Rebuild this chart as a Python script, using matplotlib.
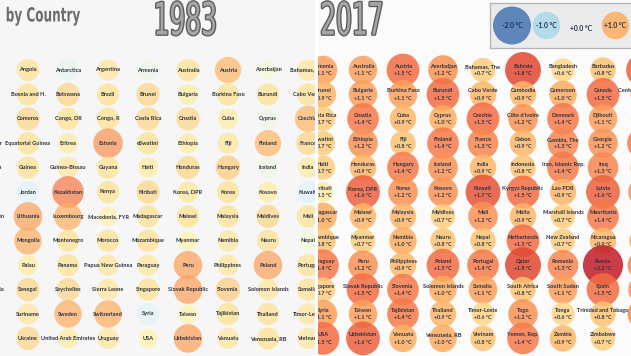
import matplotlib
matplotlib.use('Agg')
import matplotlib.pyplot as plt
import matplotlib.patheffects as pe
from matplotlib.colors import Normalize
from matplotlib.transforms import offset_copy, Affine2D

# ---------------- data ----------------
countries = [
    ["Andorra", "Angola", "Antarctica", "Argentina", "Armenia", "Australia", "Austria", "Azerbaijan", "Bahamas, The", "Bahrain", "Bangladesh", "Barbados", "Belarus"],
    ["Bolivia", "Bosnia and H.", "Botswana", "Brazil", "Brunei", "Bulgaria", "Burkina Faso", "Burundi", "Cabo Verde", "Cambodia", "Cameroon", "Canada", "Central African Rep."],
    ["Colombia", "Comoros", "Congo, DR", "Congo, R", "Costa Rica", "Croatia", "Cuba", "Cyprus", "Czechia", "Côte d'Ivoire", "Denmark", "Djibouti", "Dominica"],
    ["El Salvador", "Equatorial Guinea", "Eritrea", "Estonia", "eSwatini", "Ethiopia", "Fiji", "Finland", "France", "Gabon", "Gambia, The", "Georgia", "Germany"],
    ["Guatemala", "Guinea", "Guinea-Bissau", "Guyana", "Haiti", "Honduras", "Hungary", "Iceland", "India", "Indonesia", "Iran, Islamic Rep.", "Iraq", "Ireland"],
    ["Japan", "Jordan", "Kazakhstan", "Kenya", "Kiribati", "Korea, DPR", "Korea", "Kosovo", "Kuwait", "Kyrgyz Republic", "Lao PDR", "Latvia", "Lebanon"],
    ["Liechtenstein", "Lithuania", "Luxembourg", "Macedonia, FYR", "Madagascar", "Malawi", "Malaysia", "Maldives", "Mali", "Malta", "Marshall Islands", "Mauritania", "Mauritius"],
    ["Moldova", "Mongolia", "Montenegro", "Morocco", "Mozambique", "Myanmar", "Namibia", "Nauru", "Nepal", "Netherlands", "New Zealand", "Nicaragua", "Niger"],
    ["Pakistan", "Palau", "Panama", "Papua New Guinea", "Paraguay", "Peru", "Philippines", "Poland", "Portugal", "Qatar", "Romania", "Russia", "Rwanda"],
    ["Saudi Arabia", "Senegal", "Seychelles", "Sierra Leone", "Singapore", "Slovak Republic", "Slovenia", "Solomon Islands", "Somalia", "South Africa", "South Sudan", "Spain", "Sri Lanka"],
    ["Sudan", "Suriname", "Sweden", "Switzerland", "Syria", "Taiwan", "Tajikistan", "Thailand", "Timor-Leste", "Togo", "Tonga", "Trinidad and Tobago", "Tunisia"],
    ["Uganda", "Ukraine", "United Arab Emirates", "Uruguay", "USA", "Uzbekistan", "Vanuatu", "Venezuela, RB", "Vietnam", "Yemen, Rep.", "Zambia", "Zimbabwe", None],
]

# 1983 anomalies (grid columns 0..8)
temp_1983 = [
    [0.4, 0.5, -0.4, 0.4, -0.3, 0.5, 0.9, -0.2, 0.4],
    [0.4, 0.5, 0.6, 0.5, 0.6, 0.3, 0.5, 0.5, 0.5],
    [0.4, 0.6, 0.5, 0.5, 0.6, 0.6, 0.3, -0.3, 0.9],
    [0.4, 0.5, 0.3, 1.2, 0.5, 0.3, 0.4, 0.9, 0.6],
    [0.4, 0.5, 0.4, 0.5, 0.3, 0.6, 0.7, -0.3, 0.3],
    [0.4, -0.5, 1.4, 0.5, 0.6, 0.4, 0.5, 0.3, -0.5],
    [0.4, 1.1, 1.0, 0.2, 0.5, 0.5, 0.5, 0.6, 0.5],
    [0.4, 1.0, 0.5, 0.5, 0.5, 0.2, 0.4, 0.5, -0.2],
    [0.4, 0.3, 0.5, 0.4, 0.4, 1.1, 0.4, 1.1, 0.5],
    [0.4, 0.6, 0.6, 0.4, 0.5, 1.1, 0.7, 0.4, 0.5],
    [0.4, 0.4, 1.0, 1.0, -0.5, 0.2, 0.5, 0.5, 0.4],
    [0.4, 0.6, 0.3, 0.4, 0.2, 1.1, 0.4, 0.5, 0.4],
]

# 2017 anomalies (grid columns 4..12)
temp_2017 = [
    [1.1, 1.1, 1.5, 1.2, 0.7, 1.8, 0.6, 0.8, 1.6],
    [0.9, 1.1, 1.1, 1.5, 0.9, 0.9, 1.0, 1.5, 0.8],
    [0.7, 1.4, 0.9, 1.0, 1.5, 1.2, 1.4, 1.1, 0.7],
    [0.7, 1.2, 0.8, 1.4, 1.3, 0.9, 1.3, 1.2, 1.4],
    [0.7, 0.9, 1.4, 1.2, 0.9, 0.8, 1.4, 1.3, 0.8],
    [0.3, 1.6, 1.2, 1.2, 1.7, 1.5, 0.9, 1.6, 1.2],
    [1.0, 0.9, 0.9, 0.7, 1.2, 0.9, 0.7, 1.4, 0.6],
    [0.8, 0.7, 1.0, 0.8, 0.8, 1.5, 0.7, 0.9, 1.0],
    [1.4, 1.2, 0.9, 1.5, 1.4, 1.8, 1.3, 2.2, 1.3],
    [0.7, 1.5, 1.4, 1.0, 1.1, 0.8, 1.1, 1.5, 1.2],
    [1.1, 1.1, 1.4, 0.9, 0.6, 1.2, 0.6, 0.8, 1.3],
    [1.5, 1.6, 1.0, 1.0, 0.8, 1.4, 0.9, 0.7, None],
]

legend_temps = [-2.0, -1.0, 0.0, 1.0, 2.0]

# ---------------- style ----------------
W, H = 631, 356
cmap = plt.get_cmap('RdYlBu_r')
norm = Normalize(-2.5, 2.5)
TXT = '#2c3040'
LABEL_FONT = ['Lato', 'DejaVu Sans']
TITLE_FONT = ['DejaVu Sans']
NAME_FS = 4.1
VAL_FS = 3.9


def size_of(t):
    d_px = 17 + 10.5 * abs(t)
    return (d_px * 72 / 100) ** 2


def fmt(t):
    return f"{t:+.1f} °C"


# path effects that render a text horizontally condensed (narrow display face)
def _squeeze(tpath, affine, sx):
    ext = tpath.get_extents(affine)
    cx = 0.5 * (ext.x0 + ext.x1)
    return affine + Affine2D().translate(-cx, 0).scale(sx, 1).translate(cx, 0)


class SqStroke(pe.Stroke):
    def __init__(self, sx, **kw):
        super().__init__(**kw)
        self.sx = sx

    def draw_path(self, renderer, gc, tpath, affine, rgbFace):
        super().draw_path(renderer, gc, tpath, _squeeze(tpath, affine, self.sx), rgbFace)


class SqNormal(pe.AbstractPathEffect):
    def __init__(self, sx):
        super().__init__()
        self.sx = sx

    def draw_path(self, renderer, gc, tpath, affine, rgbFace):
        renderer.draw_path(gc, tpath, _squeeze(tpath, affine, self.sx), rgbFace)


fig = plt.figure(figsize=(W / 100, H / 100), dpi=100)
fig.patch.set_facecolor('white')


def px_axes(x0, y0, x1, y1):
    return fig.add_axes([x0 / W, 1 - y1 / H, (x1 - x0) / W, (y1 - y0) / H])


def setup(ax, x0px, x1px, col_origin_px, bg):
    # grid column g sits at col_origin_px + 40*g ; row r at 70 + 24.4*r
    ax.set_xlim((x0px - col_origin_px) / 40, (x1px - col_origin_px) / 40)
    ax.set_ylim((H - 70) / 24.4, -70 / 24.4)
    ax.set_facecolor(bg)
    ax.set_xticks([])
    ax.set_yticks([])
    for s in ax.spines.values():
        s.set_visible(False)


ax_l = px_axes(0, 0, 315, H)
setup(ax_l, 0, 315, -12, '#f6f6f6')
ax_r = px_axes(318, 0, W, H)
setup(ax_r, 318, W, 163, '#fbfbfb')

# left panel (1983): names only
for r, vals in enumerate(temp_1983):
    z = 2 + 2 * r
    cols = list(range(0, 9))
    ax_l.scatter(cols, [r] * len(cols), s=[size_of(v) for v in vals],
                 c=[cmap(norm(v)) for v in vals], alpha=0.72, linewidths=0, zorder=z)
    for g, v in zip(cols, vals):
        ax_l.text(g, r, countries[r][g], ha='center', va='center', fontsize=NAME_FS,
                  fontweight='bold', family=LABEL_FONT, color=TXT, clip_on=True, zorder=z + 1)

# right panel (2017): names + values
t_up = offset_copy(ax_r.transData, fig=fig, x=0, y=2.5, units='points')
t_dn = offset_copy(ax_r.transData, fig=fig, x=0, y=-2.6, units='points')
for r, vals in enumerate(temp_2017):
    z = 2 + 2 * r
    cols = [g for g, v in zip(range(4, 13), vals) if v is not None]
    vv = [v for v in vals if v is not None]
    ax_r.scatter(cols, [r] * len(cols), s=[size_of(v) for v in vv],
                 c=[cmap(norm(v)) for v in vv], alpha=0.85, linewidths=0, zorder=z)
    for g, v in zip(cols, vv):
        ax_r.text(g, r, countries[r][g], transform=t_up, ha='center', va='center',
                  fontsize=NAME_FS, fontweight='bold', family=LABEL_FONT, color=TXT,
                  clip_on=True, zorder=z + 1)
        ax_r.text(g, r, fmt(v), transform=t_dn, ha='center', va='center',
                  fontsize=VAL_FS, fontweight='bold', family=LABEL_FONT, color=TXT,
                  clip_on=True, zorder=z + 1)

# legend box
ax_lg = px_axes(490, 3, 700, 48)
ax_lg.set_xlim((490 - 512) / 34.5, (700 - 512) / 34.5)
ax_lg.set_ylim(-1, 1)
ax_lg.set_facecolor('#ebebeb')
ax_lg.set_xticks([])
ax_lg.set_yticks([])
for s in ax_lg.spines.values():
    s.set_color('#b3b3b3')
    s.set_linewidth(0.9)
lg_x = [i for i, t in enumerate(legend_temps) if t != 0]
lg_t = [t for t in legend_temps if t != 0]
ax_lg.scatter(lg_x, [0] * len(lg_x), s=[size_of(t) for t in lg_t],
              c=[cmap(norm(t)) for t in lg_t], alpha=0.85, linewidths=0, zorder=2)
for i, t in enumerate(legend_temps):
    ax_lg.text(i, -0.15 if t == 0 else 0.0, fmt(t), ha='center', va='center', fontsize=4.9,
               fontweight='bold', family=LABEL_FONT, color='#1f2d4d', zorder=3)

# titles (narrow display lettering)
fig.text(43 / W, 1 - 16 / H, 'by Country', ha='center', va='center', fontsize=14,
         fontweight='bold', family=TITLE_FONT, color='#6d6d6d',
         path_effects=[SqNormal(0.62)])
year_fx = [SqStroke(0.56, linewidth=2.0, foreground='#5e5e5e'), SqNormal(0.56)]
fig.text(185 / W, 1 - 22 / H, '1983', ha='center', va='center', fontsize=32,
         family=TITLE_FONT, color='#a6a6a6', path_effects=year_fx)
fig.text(352 / W, 1 - 22 / H, '2017', ha='center', va='center', fontsize=32,
         family=TITLE_FONT, color='#a6a6a6', path_effects=year_fx)

fig.savefig('out.png', dpi=100, facecolor=fig.get_facecolor())
